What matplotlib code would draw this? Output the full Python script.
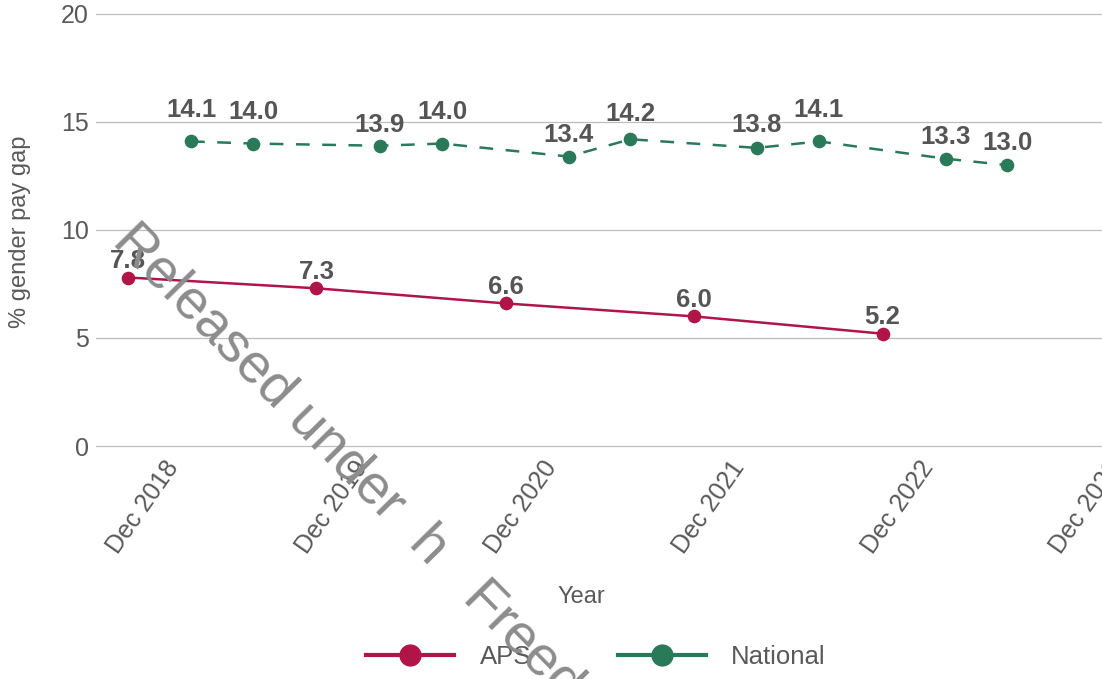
import pandas as pd
import matplotlib
matplotlib.use('Agg')
import matplotlib.pyplot as plt
import matplotlib.transforms as mtransforms
from matplotlib.lines import Line2D

plt.rcParams['font.family'] = ['Liberation Sans', 'DejaVu Sans']

# datos
aps_dates = pd.to_datetime(['2018-09-01', '2019-09-01', '2020-09-01', '2021-09-01', '2022-09-01'])
aps_gap = [7.8, 7.3, 6.6, 6.0, 5.2]

nat_dates = pd.to_datetime(['2019-01-01', '2019-05-01', '2020-01-01', '2020-05-01', '2021-01-01',
                            '2021-05-01', '2022-01-01', '2022-05-01', '2023-01-01', '2023-05-01'])
nat_gap = [14.1, 14.0, 13.9, 14.0, 13.4, 14.2, 13.8, 14.1, 13.3, 13.0]

tick_dates = pd.to_datetime(['2018-12-01', '2019-12-01', '2020-12-01', '2021-12-01', '2022-12-01', '2023-12-01'])
tick_labels = ['Dec 2018', 'Dec 2019', 'Dec 2020', 'Dec 2021', 'Dec 2022', 'Dec 2023']
y_ticks = [0, 5, 10, 15, 20]

# desplazamiento vertical de las etiquetas (px)
nat_label_dy = [24, 25, 14, 25, 15, 18, 16, 24, 15, 15]
aps_label_dy = 9.5

APS_COL = '#B01548'
NAT_COL = '#2A7A5A'
TXT_COL = '#595959'
LBL_COL = '#555555'

fig = plt.figure(figsize=(11.02, 6.79), dpi=100)
ax = fig.add_axes([0.0871, 0.3336, 0.9485, 0.6554])

ax.plot(aps_dates, aps_gap, color=APS_COL, lw=1.8, marker='o', markersize=8.8, zorder=3)
ax.plot(nat_dates, nat_gap, color=NAT_COL, lw=1.8, linestyle=(0, (5.5, 5)),
        marker='o', markersize=8.8, zorder=3)

for d, v in zip(aps_dates, aps_gap):
    ax.annotate(f'{v:.1f}', (d, v), xytext=(0, aps_label_dy / 1.389), textcoords='offset points',
                ha='center', va='baseline', fontsize=18.5, fontweight='bold', color=LBL_COL, zorder=4)
for d, v, dy in zip(nat_dates, nat_gap, nat_label_dy):
    ax.annotate(f'{v:.1f}', (d, v), xytext=(0, dy / 1.389), textcoords='offset points',
                ha='center', va='baseline', fontsize=18.5, fontweight='bold', color=LBL_COL, zorder=4)

ax.set_xlim(pd.Timestamp('2018-07-01'), pd.Timestamp('2024-01-15'))
ax.set_ylim(-0.3, 20.3)
ax.set_yticks(y_ticks)
ax.set_yticklabels([str(t) for t in y_ticks])
ax.set_xticks(tick_dates)
ax.set_xticklabels(tick_labels)
ax.yaxis.grid(True, color='#BDBDBD', lw=0.9)
ax.xaxis.grid(False)
ax.set_axisbelow(True)
for s in ax.spines.values():
    s.set_visible(False)
ax.tick_params(axis='both', length=0, labelsize=18, labelcolor=TXT_COL)
ax.tick_params(axis='y', pad=5)
ax.tick_params(axis='x', pad=3)
shift = mtransforms.ScaledTranslation(-0.11, 0, fig.dpi_scale_trans)
for lab in ax.get_xticklabels():
    lab.set_rotation(55)
    lab.set_ha('right')
    lab.set_va('top')
    lab.set_rotation_mode('anchor')
    lab.set_transform(lab.get_transform() + shift)

fig.text(0.018, 0.658, '% gender pay gap', rotation=90, ha='center', va='center',
         fontsize=17, color=TXT_COL)
fig.text(0.528, 0.121, 'Year', ha='center', va='center', fontsize=17, color=TXT_COL)

handles = [
    Line2D([], [], color=APS_COL, lw=3, marker='o', markersize=15),
    Line2D([], [], color=NAT_COL, lw=3, marker='o', markersize=15),
]
fig.legend(handles, ['APS', 'National'], loc='center', bbox_to_anchor=(0.541, 0.033), ncol=2,
           frameon=False, fontsize=18.5, labelcolor=TXT_COL, handlelength=3.4,
           handletextpad=1.0, columnspacing=3.4)

# marca de agua del documento
fig.text(0.1015, 0.643, 'Released under  h   Freedom', rotation=-45.5, rotation_mode='anchor',
         ha='left', va='baseline', fontsize=40, color='#8c8c8c', zorder=10)

fig.savefig('out.png', dpi=100)
